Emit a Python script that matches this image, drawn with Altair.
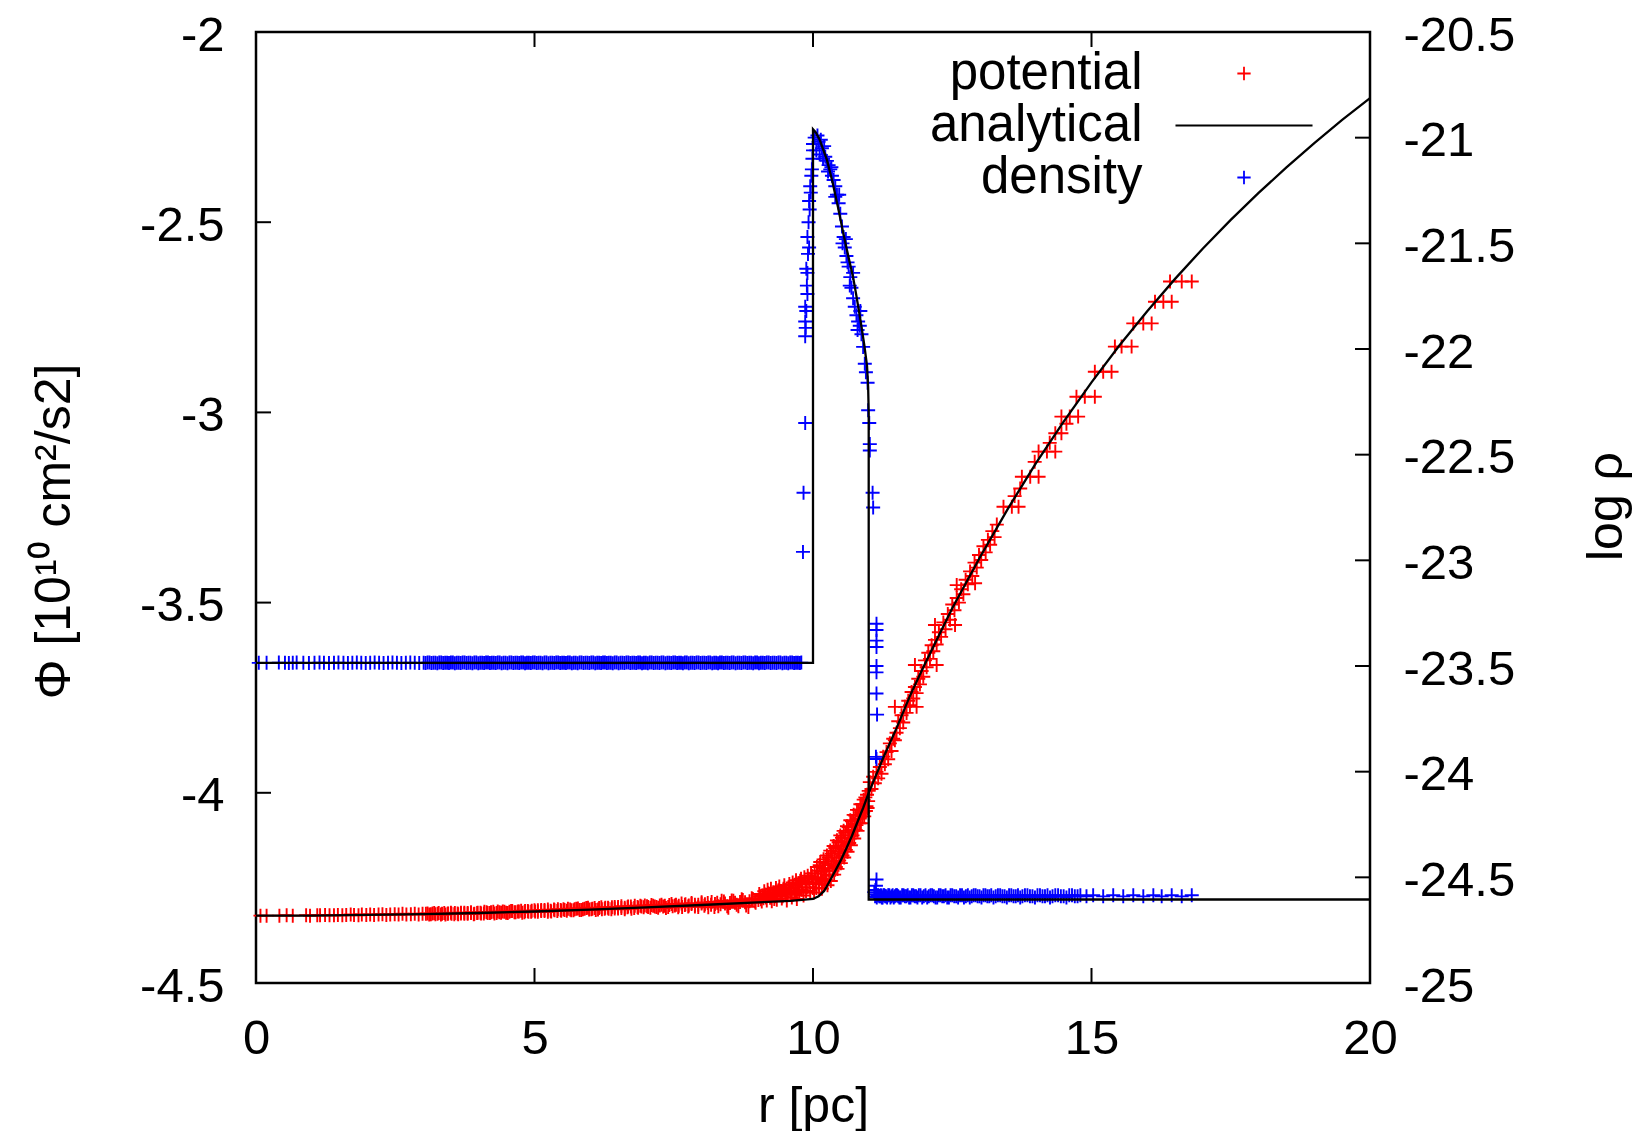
import altair as alt
import pandas as pd

# ---------------- data ----------------
x_ticks = [0, 5, 10, 15, 20]
phi_ticks = [-4.5, -4.0, -3.5, -3.0, -2.5, -2.0]
rho_ticks = [-25.0, -24.5, -24.0, -23.5, -23.0, -22.5, -22.0, -21.5, -21.0, -20.5]
series_names = ["potential", "analytical", "density"]
series_colors = ["#ff0000", "#000000", "#0000ff"]

# potential (simulation), (r [pc], Phi)
red_flat = [(0.08,-4.323),(0.19,-4.323),(0.42,-4.323),(0.55,-4.322),(0.66,-4.323),(0.90,-4.322),(0.97,-4.323),
            (1.10,-4.322),(1.15,-4.322),(1.24,-4.321),(1.32,-4.322),(1.40,-4.322),(1.47,-4.321),(1.55,-4.322),
            (1.62,-4.321),(1.70,-4.320),(1.76,-4.321),(1.84,-4.322),(1.90,-4.320),(1.98,-4.321),(2.05,-4.320),
            (2.12,-4.321),(2.20,-4.320),(2.27,-4.319),(2.34,-4.321),(2.41,-4.320),(2.49,-4.319),(2.56,-4.320),
            (2.63,-4.318),(2.70,-4.320),(2.78,-4.319),(2.85,-4.318),(2.92,-4.320),(2.99,-4.318)]
red_mid = [(3.05,-4.318),(3.11,-4.320),(3.17,-4.317),(3.22,-4.319),(3.28,-4.316),(3.34,-4.318),(3.40,-4.320),
           (3.45,-4.317),(3.51,-4.318),(3.57,-4.316),(3.63,-4.319),(3.68,-4.317),(3.74,-4.315),(3.80,-4.318),
           (3.86,-4.316),(3.91,-4.319),(3.97,-4.316),
           (4.03,-4.315),(4.09,-4.317),(4.14,-4.314),(4.20,-4.316),(4.26,-4.313),(4.32,-4.316),(4.37,-4.314),
           (4.43,-4.312),(4.49,-4.315),(4.55,-4.313),(4.60,-4.311),(4.66,-4.314),(4.72,-4.312),(4.78,-4.315),
           (4.83,-4.311),(4.89,-4.313),(4.95,-4.310),
           (5.01,-4.312),(5.06,-4.309),(5.12,-4.311),(5.18,-4.308),(5.24,-4.313),(5.29,-4.310),(5.35,-4.307),
           (5.41,-4.311),(5.47,-4.308),(5.52,-4.306),(5.58,-4.310),(5.64,-4.307),(5.70,-4.309),(5.75,-4.305),
           (5.81,-4.308),(5.87,-4.306),(5.93,-4.303),(5.98,-4.307),
           (6.04,-4.305),(6.10,-4.308),(6.16,-4.303),(6.21,-4.306),(6.27,-4.302),(6.33,-4.305),(6.39,-4.301),
           (6.44,-4.304),(6.50,-4.300),(6.56,-4.303),(6.62,-4.306),(6.67,-4.301),(6.73,-4.299),(6.79,-4.303),
           (6.85,-4.300),(6.90,-4.297),(6.96,-4.301),
           (7.02,-4.298),(7.08,-4.302),(7.13,-4.297),(7.19,-4.300),(7.25,-4.296),(7.31,-4.299),(7.36,-4.303),
           (7.42,-4.295),(7.48,-4.298),(7.54,-4.294),(7.59,-4.297),(7.65,-4.300),(7.71,-4.293),(7.77,-4.296),
           (7.82,-4.292),(7.88,-4.299),(7.94,-4.294),
           (8.00,-4.291),(8.05,-4.297),(8.11,-4.290),(8.17,-4.294),(8.23,-4.300),(8.28,-4.289),(8.34,-4.293),
           (8.40,-4.286),(8.46,-4.298),(8.51,-4.290),(8.57,-4.284),(8.63,-4.294),(8.69,-4.287),(8.74,-4.282),
           (8.80,-4.296),(8.86,-4.285),(8.92,-4.279),(8.97,-4.289)]
red_mid_b = [(3.08,-4.317),(3.14,-4.319),(3.20,-4.316),(3.26,-4.318),(3.32,-4.320),(3.38,-4.316),(3.44,-4.318),
             (3.50,-4.315),(3.56,-4.319),(3.62,-4.317),(3.68,-4.315),(3.74,-4.318),(3.80,-4.316),(3.86,-4.314),
             (3.92,-4.318),(3.98,-4.315),(4.04,-4.317),(4.10,-4.313),(4.16,-4.316),(4.22,-4.314),(4.28,-4.317),
             (4.34,-4.312),(4.40,-4.315),(4.46,-4.313),(4.52,-4.316),(4.58,-4.311),(4.64,-4.314),(4.70,-4.312),
             (4.76,-4.310),(4.82,-4.314),(4.88,-4.311),(4.94,-4.313),(5.00,-4.309),(5.06,-4.313),(5.12,-4.308),
             (5.18,-4.311),(5.24,-4.307),(5.30,-4.312),(5.36,-4.309),(5.42,-4.306),(5.48,-4.310),(5.54,-4.308),
             (5.60,-4.305),(5.66,-4.309),(5.72,-4.306),(5.78,-4.304),(5.84,-4.308),(5.90,-4.305),(5.96,-4.302),
             (6.02,-4.306),(6.08,-4.303),(6.14,-4.307),(6.20,-4.301),(6.26,-4.305),(6.32,-4.302),(6.38,-4.306),
             (6.44,-4.300),(6.50,-4.304),(6.56,-4.298),(6.62,-4.302),(6.68,-4.299),(6.74,-4.305),(6.80,-4.297),
             (6.86,-4.302),(6.92,-4.299),(6.98,-4.296),(7.04,-4.300),(7.10,-4.295),(7.16,-4.299),(7.22,-4.302),
             (7.28,-4.294),(7.34,-4.297),(7.40,-4.300),(7.46,-4.292),(7.52,-4.296),(7.58,-4.301),(7.64,-4.291),
             (7.70,-4.295),(7.76,-4.299),(7.82,-4.290),(7.88,-4.294),(7.94,-4.300),(8.00,-4.288),(8.06,-4.293),
             (8.12,-4.301),(8.18,-4.287),(8.24,-4.292),(8.30,-4.298),(8.36,-4.284),(8.42,-4.291),(8.48,-4.302),
             (8.54,-4.283),(8.60,-4.289),(8.66,-4.298),(8.72,-4.280),(8.78,-4.288),(8.84,-4.300),(8.90,-4.277),
             (8.96,-4.286)]
red_rise = [(9.02,-4.282),(9.05,-4.272),(9.08,-4.286),(9.11,-4.277),(9.14,-4.268),(9.17,-4.283),(9.20,-4.264),
            (9.23,-4.276),(9.26,-4.285),(9.29,-4.262),(9.32,-4.272),(9.35,-4.281),(9.38,-4.256),(9.41,-4.269),
            (9.44,-4.278),(9.47,-4.252),(9.50,-4.266),(9.53,-4.283),(9.56,-4.248),(9.59,-4.262),(9.62,-4.275),
            (9.65,-4.244),(9.68,-4.258),(9.71,-4.279),(9.74,-4.238),(9.77,-4.231),(9.80,-4.255),(9.83,-4.270),
            (9.86,-4.234),(9.89,-4.248),(9.92,-4.226),(9.95,-4.262),(9.98,-4.219),(10.00,-4.240)]
red_rise_b = [(9.035,-4.266),(9.065,-4.280),(9.095,-4.270),(9.125,-4.259),(9.155,-4.275),(9.185,-4.255),
              (9.215,-4.270),(9.245,-4.252),(9.275,-4.268),(9.305,-4.279),(9.335,-4.250),(9.365,-4.262),
              (9.395,-4.246),(9.425,-4.258),(9.455,-4.272),(9.485,-4.243),(9.515,-4.256),(9.545,-4.268),
              (9.575,-4.240),(9.605,-4.252),(9.635,-4.236),(9.665,-4.266),(9.695,-4.230),(9.725,-4.250),
              (9.755,-4.262),(9.785,-4.226),(9.815,-4.240),(9.845,-4.222),(9.875,-4.258),(9.905,-4.218),
              (9.935,-4.236),(9.965,-4.212),(9.995,-4.250)]
red_shell = [(10.02,-4.262),(10.04,-4.228),(10.06,-4.250),(10.08,-4.205),(10.10,-4.240),(10.12,-4.190),
             (10.14,-4.225),(10.16,-4.252),(10.18,-4.200),(10.20,-4.238),(10.22,-4.185),(10.24,-4.215),
             (10.26,-4.243),(10.28,-4.170),(10.30,-4.205),(10.32,-4.232),(10.34,-4.160),(10.36,-4.190),
             (10.38,-4.215),(10.40,-4.145),(10.42,-4.180),(10.44,-4.200),(10.46,-4.130),(10.48,-4.160),
             (10.50,-4.185),(10.52,-4.118),(10.54,-4.148),(10.56,-4.170),(10.58,-4.105),(10.60,-4.135),
             (10.62,-4.155),(10.64,-4.090),(10.66,-4.120),(10.68,-4.138),(10.70,-4.075),(10.72,-4.100),
             (10.74,-4.120),(10.76,-4.060),(10.78,-4.085),(10.80,-4.100),(10.82,-4.045),(10.84,-4.068),
             (10.86,-4.080),(10.88,-4.030),(10.90,-4.052),(10.92,-4.062),(10.94,-4.012),(10.96,-4.035),
             (10.98,-4.040),(11.00,-3.995)]
red_shell_b = [(10.03,-4.212),(10.05,-4.240),(10.07,-4.195),(10.09,-4.222),(10.11,-4.250),(10.13,-4.182),
               (10.15,-4.208),(10.17,-4.232),(10.19,-4.175),(10.21,-4.198),(10.23,-4.228),(10.25,-4.165),
               (10.27,-4.190),(10.29,-4.218),(10.31,-4.152),(10.33,-4.180),(10.35,-4.205),(10.37,-4.140),
               (10.39,-4.170),(10.41,-4.195),(10.43,-4.125),(10.45,-4.155),(10.47,-4.178),(10.49,-4.112),
               (10.51,-4.140),(10.53,-4.165),(10.55,-4.100),(10.57,-4.128),(10.59,-4.150),(10.61,-4.088),
               (10.63,-4.112),(10.65,-4.132),(10.67,-4.072),(10.69,-4.098),(10.71,-4.112),(10.73,-4.058),
               (10.75,-4.082),(10.77,-4.098),(10.79,-4.045),(10.81,-4.068),(10.83,-4.080),(10.85,-4.030),
               (10.87,-4.052),(10.89,-4.062),(10.91,-4.018),(10.93,-4.040),(10.95,-4.048),(10.97,-4.005),
               (10.99,-4.022)]
red_outer = [(11.02,-3.972),(11.05,-3.990),(11.08,-3.958),(11.11,-3.975),(11.14,-3.945),(11.17,-3.962),
             (11.20,-3.932),(11.23,-3.950),(11.26,-3.905),(11.29,-3.925),(11.32,-3.893),(11.35,-3.912),
             (11.38,-3.870),(11.41,-3.890),(11.44,-3.858),(11.47,-3.774),(11.47,-3.862),(11.50,-3.842),
             (11.53,-3.812),(11.56,-3.830),(11.59,-3.796),(11.62,-3.815),(11.65,-3.774),(11.68,-3.790),
             (11.71,-3.758),(11.74,-3.770),(11.77,-3.735),(11.80,-3.752),(11.83,-3.664),(11.83,-3.722),
             (11.86,-3.774),(11.86,-3.738),(11.89,-3.700),(11.92,-3.715),(11.95,-3.680),(11.98,-3.695),
             (12.01,-3.652),(12.04,-3.670),(12.07,-3.632),(12.10,-3.648),(12.13,-3.612),(12.16,-3.628),
             (12.19,-3.559),(12.19,-3.598),(12.22,-3.664),(12.22,-3.610),(12.26,-3.578),(12.30,-3.590),
             (12.34,-3.552),(12.38,-3.570),(12.42,-3.530),(12.46,-3.545),(12.50,-3.505),(12.55,-3.559),
             (12.54,-3.520),(12.58,-3.454),(12.58,-3.488),(12.62,-3.500),(12.66,-3.465),(12.70,-3.478),
             (12.74,-3.440),(12.78,-3.452),(12.82,-3.418),(12.86,-3.430),(12.91,-3.449),(12.90,-3.395),
             (12.94,-3.408),(12.98,-3.375),(13.02,-3.388),(13.06,-3.352),(13.10,-3.368),(13.14,-3.335),
             (13.18,-3.348),(13.22,-3.312),(13.26,-3.328),(13.30,-3.295)]
red_far = [(13.42,-3.248),(13.57,-3.248),(13.69,-3.248),(13.62,-3.220),(13.72,-3.200),
           (13.75,-3.169),(13.90,-3.169),(14.05,-3.169),(13.98,-3.130),
           (14.05,-3.103),(14.20,-3.103),(14.35,-3.103),(14.25,-3.080),
           (14.35,-3.055),(14.46,-3.055),(14.55,-3.030),
           (14.46,-3.011),(14.61,-3.011),(14.76,-3.011),
           (14.73,-2.959),(14.88,-2.959),(15.06,-2.959),
           (15.06,-2.893),(15.21,-2.893),(15.36,-2.893),
           (15.42,-2.827),(15.54,-2.827),(15.72,-2.827),
           (15.75,-2.766),(15.93,-2.766),(16.08,-2.766),
           (16.14,-2.709),(16.29,-2.709),(16.44,-2.709),
           (16.41,-2.656),(16.62,-2.656),(16.80,-2.656)]

# density (simulation), (r [pc], log rho)
blue_flat = [(0.05,-23.485),(0.19,-23.485),(0.41,-23.484),(0.52,-23.485),(0.59,-23.486),(0.66,-23.485),
             (0.73,-23.484),(0.85,-23.485),(0.95,-23.486),(1.05,-23.485),(1.14,-23.484),(1.22,-23.485),
             (1.31,-23.486),(1.40,-23.485),(1.48,-23.484),(1.57,-23.485),(1.65,-23.486),(1.73,-23.485),
             (1.81,-23.484),(1.89,-23.485),(1.97,-23.486),(2.05,-23.485),(2.13,-23.484),(2.21,-23.485),
             (2.29,-23.486),(2.37,-23.485),(2.45,-23.484),(2.53,-23.485),(2.61,-23.486),(2.69,-23.485),
             (2.77,-23.484),(2.85,-23.485),(2.93,-23.486),
             (3.01,-23.485),(3.08,-23.484),(3.15,-23.486),(3.22,-23.485),(3.29,-23.483),(3.36,-23.486),
             (3.43,-23.485),(3.50,-23.484),(3.57,-23.487),(3.64,-23.485),(3.71,-23.483),(3.78,-23.486),
             (3.85,-23.485),(3.92,-23.484),(3.99,-23.487),(4.06,-23.485),(4.13,-23.483),(4.20,-23.486),
             (4.27,-23.485),(4.34,-23.484),(4.41,-23.487),(4.48,-23.485),(4.55,-23.483),(4.62,-23.486),
             (4.69,-23.485),(4.76,-23.484),(4.83,-23.487),(4.90,-23.485),(4.97,-23.483),(5.04,-23.486),
             (5.11,-23.485),(5.18,-23.484),(5.25,-23.487),(5.32,-23.485),(5.39,-23.483),(5.46,-23.486),
             (5.53,-23.485),(5.60,-23.484),(5.67,-23.487),(5.74,-23.485),(5.81,-23.483),(5.88,-23.486),
             (5.95,-23.485),(6.02,-23.484),(6.09,-23.487),(6.16,-23.485),(6.23,-23.483),(6.30,-23.486),
             (6.37,-23.485),(6.44,-23.484),(6.51,-23.487),(6.58,-23.485),(6.65,-23.483),(6.72,-23.486),
             (6.79,-23.485),(6.86,-23.484),(6.93,-23.487),(7.00,-23.485),(7.07,-23.483),(7.14,-23.486),
             (7.21,-23.485),(7.28,-23.484),(7.35,-23.487),(7.42,-23.485),(7.49,-23.483),(7.56,-23.486),
             (7.63,-23.485),(7.70,-23.484),(7.77,-23.487),(7.84,-23.485),(7.91,-23.483),(7.98,-23.486),
             (8.05,-23.485),(8.12,-23.484),(8.19,-23.487),(8.26,-23.485),(8.33,-23.483),(8.40,-23.486),
             (8.47,-23.485),(8.54,-23.484),(8.61,-23.487),(8.68,-23.485),(8.75,-23.483),(8.82,-23.486),
             (8.89,-23.485),(8.96,-23.484),(9.03,-23.487),(9.10,-23.485),(9.17,-23.483),(9.24,-23.486),
             (9.31,-23.485),(9.38,-23.484),(9.45,-23.487),(9.52,-23.485),(9.59,-23.483),(9.66,-23.486),
             (9.73,-23.485),(9.79,-23.484)]
blue_flat_b = [(3.045,-23.486),(3.115,-23.484),(3.185,-23.485),(3.255,-23.487),(3.325,-23.484),(3.395,-23.485),
               (3.465,-23.486),(3.535,-23.483),(3.605,-23.485),(3.675,-23.486),(3.745,-23.484),(3.815,-23.485),
               (3.885,-23.487),(3.955,-23.484),(4.025,-23.485),(4.095,-23.486),(4.165,-23.483),(4.235,-23.485),
               (4.305,-23.486),(4.375,-23.484),(4.445,-23.485),(4.515,-23.487),(4.585,-23.484),(4.655,-23.485),
               (4.725,-23.486),(4.795,-23.483),(4.865,-23.485),(4.935,-23.486),(5.005,-23.484),(5.075,-23.485),
               (5.145,-23.487),(5.215,-23.484),(5.285,-23.485),(5.355,-23.486),(5.425,-23.483),(5.495,-23.485),
               (5.565,-23.486),(5.635,-23.484),(5.705,-23.485),(5.775,-23.487),(5.845,-23.484),(5.915,-23.485),
               (5.985,-23.486),(6.055,-23.483),(6.125,-23.485),(6.195,-23.486),(6.265,-23.484),(6.335,-23.485),
               (6.405,-23.487),(6.475,-23.484),(6.545,-23.485),(6.615,-23.486),(6.685,-23.483),(6.755,-23.485),
               (6.825,-23.486),(6.895,-23.484),(6.965,-23.485),(7.035,-23.487),(7.105,-23.484),(7.175,-23.485),
               (7.245,-23.486),(7.315,-23.483),(7.385,-23.485),(7.455,-23.486),(7.525,-23.484),(7.595,-23.485),
               (7.665,-23.487),(7.735,-23.484),(7.805,-23.485),(7.875,-23.486),(7.945,-23.483),(8.015,-23.485),
               (8.085,-23.486),(8.155,-23.484),(8.225,-23.485),(8.295,-23.487),(8.365,-23.484),(8.435,-23.485),
               (8.505,-23.486),(8.575,-23.483),(8.645,-23.485),(8.715,-23.486),(8.785,-23.484),(8.855,-23.485),
               (8.925,-23.487),(8.995,-23.484),(9.065,-23.485),(9.135,-23.486),(9.205,-23.483),(9.275,-23.485),
               (9.345,-23.486),(9.415,-23.484),(9.485,-23.485),(9.555,-23.487),(9.625,-23.484),(9.695,-23.485),
               (9.765,-23.486)]
blue_wall = [(9.82,-22.96),(9.83,-22.68),(9.86,-22.35),(9.86,-21.94),(9.87,-21.90),(9.86,-21.87),
             (9.88,-21.82),(9.86,-21.80),(9.90,-21.74),(9.89,-21.70),(9.90,-21.64),(9.88,-21.62),
             (9.91,-21.55),(9.93,-21.52),(9.90,-21.47),(9.92,-21.40),(9.94,-21.34),(9.93,-21.30),
             (9.96,-21.26),(9.95,-21.23),(9.97,-21.18),(9.98,-21.15),(9.99,-21.10),(10.00,-21.06),
             (10.00,-21.03),(10.03,-21.00),(10.06,-21.06),(10.08,-20.99),(10.10,-21.02),(10.12,-21.08),
             (10.14,-21.01),(10.16,-21.05),(10.18,-21.10),(10.20,-21.04)]
blue_slope = [(10.22,-21.09),(10.25,-21.11),(10.27,-21.16),(10.28,-21.13),(10.31,-21.15),(10.33,-21.14),
              (10.34,-21.18),(10.37,-21.20),(10.40,-21.23),(10.40,-21.28),(10.43,-21.27),(10.46,-21.31),
              (10.47,-21.27),(10.49,-21.36),(10.52,-21.42),(10.53,-21.50),(10.55,-21.47),(10.57,-21.52),
              (10.59,-21.48),(10.60,-21.56),(10.62,-21.59),(10.64,-21.61),(10.66,-21.70),(10.67,-21.66),
              (10.69,-21.71),(10.72,-21.76),(10.72,-21.64),(10.75,-21.80),(10.78,-21.84),(10.80,-21.91),
              (10.81,-21.87),(10.84,-21.89),(10.85,-21.82),(10.87,-21.93),(10.90,-21.99),(10.93,-22.07),
              (10.95,-22.11),(10.98,-22.16),(10.99,-22.29),(11.01,-22.35),(11.02,-22.45),(11.02,-22.48),
              (11.07,-22.68),(11.08,-22.75),(11.14,-23.30),(11.14,-23.33),(11.14,-23.38),(11.14,-23.41),
              (11.14,-23.50),(11.14,-23.53),(11.14,-23.63),(11.15,-23.73),(11.13,-23.93),(11.14,-23.94),
              (11.14,-24.51),(11.13,-24.54),(11.12,-24.56)]
blue_outer = [(11.10,-24.57),(11.13,-24.58),(11.16,-24.585),(11.19,-24.59),(11.22,-24.585),(11.25,-24.595),
              (11.28,-24.585),(11.31,-24.59),(11.35,-24.585),(11.39,-24.595),(11.43,-24.585),(11.47,-24.59),
              (11.51,-24.585),(11.55,-24.595),(11.60,-24.585),(11.65,-24.59),(11.70,-24.585),(11.75,-24.595),
              (11.80,-24.585),(11.85,-24.59),(11.90,-24.585),(11.96,-24.595),(12.02,-24.585),(12.08,-24.59),
              (12.14,-24.585),(12.20,-24.595),(12.26,-24.585),(12.32,-24.59),(12.38,-24.585),(12.44,-24.595),
              (12.50,-24.585),(12.57,-24.59),(12.64,-24.585),(12.71,-24.595),(12.78,-24.585),(12.85,-24.59),
              (12.92,-24.585),(12.99,-24.59),(13.06,-24.585),(13.13,-24.59),(13.20,-24.585),(13.28,-24.59),
              (13.36,-24.585),(13.44,-24.59),(13.52,-24.585),(13.60,-24.59),(13.68,-24.585),(13.76,-24.59),
              (13.85,-24.585),(13.94,-24.59),(14.03,-24.585),(14.12,-24.59),(14.21,-24.585),(14.30,-24.59),
              (14.40,-24.585),(14.50,-24.59),(14.60,-24.585),(14.70,-24.59),(14.80,-24.585),(14.91,-24.59),
              (15.03,-24.585),(15.21,-24.59),(15.39,-24.585),(15.57,-24.59),(15.75,-24.585),(15.93,-24.59),
              (16.11,-24.585),(16.26,-24.59),(16.44,-24.585),(16.62,-24.59),(16.80,-24.585)]
blue_outer_b = [(11.115,-24.59),(11.145,-24.595),(11.175,-24.585),(11.205,-24.59),(11.235,-24.595),
                (11.265,-24.585),(11.295,-24.59),(11.33,-24.595),(11.37,-24.585),(11.41,-24.59),
                (11.45,-24.595),(11.49,-24.585),(11.53,-24.59),(11.575,-24.595),(11.625,-24.585),
                (11.675,-24.59),(11.725,-24.595),(11.775,-24.585),(11.825,-24.59),(11.875,-24.595),
                (11.93,-24.585),(11.99,-24.59),(12.05,-24.595),(12.11,-24.585),(12.17,-24.59),
                (12.23,-24.595),(12.29,-24.585),(12.35,-24.59),(12.41,-24.595),(12.47,-24.585),
                (12.535,-24.59),(12.605,-24.595),(12.675,-24.585),(12.745,-24.59),(12.815,-24.595),
                (12.885,-24.585),(12.955,-24.59),(13.025,-24.595),(13.095,-24.585),(13.165,-24.59),
                (13.24,-24.595),(13.32,-24.585),(13.40,-24.59),(13.48,-24.595),(13.56,-24.585),
                (13.64,-24.59),(13.72,-24.595),(13.805,-24.585),(13.895,-24.59),(13.985,-24.595),
                (14.075,-24.585),(14.165,-24.59),(14.255,-24.595),(14.35,-24.585),(14.45,-24.59),
                (14.55,-24.595),(14.65,-24.585),(14.75,-24.59)]

# analytical curves
phi_analytic = [(0.0,-4.323),(1.0,-4.323),(2.0,-4.321),(3.0,-4.319),(4.0,-4.316),(5.0,-4.312),(6.0,-4.307),
                (7.0,-4.301),(8.0,-4.295),(9.0,-4.288),(9.6,-4.284),(10.0,-4.279),(10.1,-4.272),(10.2,-4.258),
                (10.3,-4.232),(10.4,-4.205),(10.5,-4.177),(10.6,-4.146),(10.7,-4.113),(10.8,-4.076),
                (10.9,-4.040),(11.0,-4.000),(11.25,-3.912),(11.5,-3.830),(11.75,-3.742),(12.0,-3.664),
                (12.5,-3.515),(13.0,-3.380),(13.5,-3.253),(14.0,-3.134),(14.5,-3.024),(15.0,-2.921),
                (15.5,-2.824),(16.0,-2.734),(16.5,-2.649),(17.0,-2.569),(17.5,-2.494),(18.0,-2.423),
                (18.5,-2.356),(19.0,-2.292),(19.5,-2.231),(20.0,-2.174)]
rho_analytic = [(0.0,-23.485),(10.0,-23.485),(10.0,-20.96),(10.05,-20.975),(10.12,-21.01),(10.25,-21.105),
                (10.35,-21.21),(10.45,-21.33),(10.55,-21.46),(10.65,-21.58),(10.72,-21.66),(10.78,-21.75),
                (10.85,-21.86),(10.92,-21.98),(10.97,-22.08),(10.99,-22.18),(11.0,-22.3),(11.0,-24.605),
                (20.0,-24.605)]

# ---------------- tables ----------------
red_df = pd.DataFrame(red_flat + red_mid + red_mid_b + red_rise + red_rise_b + red_shell + red_shell_b
                      + red_outer + red_far, columns=["r", "phi"])
blue_df = pd.DataFrame(blue_flat + blue_flat_b + blue_wall + blue_slope + blue_outer + blue_outer_b,
                       columns=["r", "logrho"])
phi_line_df = pd.DataFrame(phi_analytic, columns=["r", "phi"])
phi_line_df["i"] = range(len(phi_line_df))
rho_line_df = pd.DataFrame(rho_analytic, columns=["r", "logrho"])
rho_line_df["i"] = range(len(rho_line_df))
legend_df = pd.DataFrame({"series": series_names})

# ---------------- styling ----------------
W, H = 1114, 951
FONT = "Liberation Sans"
CROSS = "M-1,0H1M0,-1V1"
LEGEND_LINE = "M-10.3,0H10.3"
TICK = 15
MARK_SIZE = 196
MARK_STROKE = 1.9

x_scale = alt.Scale(domain=[0, 20], nice=False, zero=False)
phi_scale = alt.Scale(domain=[-4.5, -2.0], nice=False, zero=False)
rho_scale = alt.Scale(domain=[-25.0, -20.5], nice=False, zero=False)

x_axis = alt.Axis(values=x_ticks, title="r [pc]", labelExpr="'' + datum.value", labelPadding=31,
                  titleX=W / 2, titleY=138, titleAlign="center", titleBaseline="alphabetic")
left_axis = alt.Axis(orient="left", values=phi_ticks, title="Φ [10¹⁰ cm²/s2]",
                     labelExpr="'' + datum.value", labelPadding=32, labelOffset=alt.ExprRef(expr="3"),
                     titleAngle=270, titleX=-187, titleY=499, titleAlign="center", titleBaseline="alphabetic")
right_axis = alt.Axis(orient="right", values=rho_ticks, title="log ρ",
                      labelExpr="'' + datum.value", labelPadding=33, labelOffset=alt.ExprRef(expr="3"),
                      titleAngle=270, titleX=251, titleY=474, titleAlign="center", titleBaseline="alphabetic")

X = alt.X("r:Q", scale=x_scale, axis=x_axis)

red = alt.Chart(red_df).mark_point(shape=CROSS, filled=False, size=MARK_SIZE, strokeWidth=MARK_STROKE,
                                   color="#ff0000", opacity=1).encode(
    x=X, y=alt.Y("phi:Q", scale=phi_scale, axis=left_axis))

blue = alt.Chart(blue_df).mark_point(shape=CROSS, filled=False, size=MARK_SIZE, strokeWidth=MARK_STROKE,
                                     color="#0000ff", opacity=1).encode(
    x=X, y=alt.Y("logrho:Q", scale=rho_scale, axis=right_axis))

phi_line = alt.Chart(phi_line_df).mark_line(color="black", strokeWidth=2.3).encode(
    x=X, y=alt.Y("phi:Q", scale=phi_scale, axis=None), order="i:Q")

rho_line = alt.Chart(rho_line_df).mark_line(color="black", strokeWidth=2.3).encode(
    x=X, y=alt.Y("logrho:Q", scale=rho_scale, axis=None), order="i:Q")

tick_x = alt.X("v:Q", scale=x_scale, axis=x_axis)
bottom_ticks = alt.Chart(pd.DataFrame({"v": x_ticks})).mark_rule(color="black", strokeWidth=2).encode(
    x=tick_x, y=alt.value(H - TICK), y2=alt.value(H))
top_ticks = alt.Chart(pd.DataFrame({"v": x_ticks})).mark_rule(color="black", strokeWidth=2).encode(
    x=tick_x, y=alt.value(0), y2=alt.value(TICK))
left_ticks = alt.Chart(pd.DataFrame({"v": phi_ticks})).mark_rule(color="black", strokeWidth=2).encode(
    y=alt.Y("v:Q", scale=phi_scale, axis=None), x=alt.value(0), x2=alt.value(TICK))
right_ticks = alt.Chart(pd.DataFrame({"v": rho_ticks})).mark_rule(color="black", strokeWidth=2).encode(
    y=alt.Y("v:Q", scale=rho_scale, axis=None), x=alt.value(W - TICK), x2=alt.value(W))

legend_props = dict(orient="none", legendX=962.5, legendY=16, title=None, labelAlign="right",
                    labelOffset=alt.ExprRef(expr="-127"), labelFontSize=51, labelFont=FONT,
                    labelColor="black", labelLimit=0, symbolSize=177, symbolStrokeWidth=1.8,
                    rowPadding=0, padding=0, symbolOpacity=1)
legend_layer = alt.Chart(legend_df).mark_point(filled=False, opacity=1, clip=True, size=177,
                                               strokeWidth=1.8).encode(
    x=alt.value(-60), y=alt.value(-60),
    color=alt.Color("series:N", scale=alt.Scale(domain=series_names, range=series_colors),
                    legend=alt.Legend(**legend_props)),
    shape=alt.Shape("series:N", scale=alt.Scale(domain=series_names, range=[CROSS, LEGEND_LINE, CROSS]),
                    legend=alt.Legend(**legend_props)))

chart = alt.layer(
    red, blue, phi_line, rho_line, bottom_ticks, top_ticks, left_ticks, right_ticks, legend_layer
).resolve_scale(
    y="independent"
).properties(
    width=W, height=H,
    autosize=alt.AutoSizeParams(type="none"),
    padding={"left": 248, "top": 24, "right": 272, "bottom": 148},
).configure_view(
    stroke="black", strokeWidth=2.5
).configure_axis(
    labelFont=FONT, labelFontSize=49, labelColor="black",
    titleFont=FONT, titleFontSize=50, titleFontWeight="normal", titleColor="black",
    domain=False, ticks=False, tickSize=0, grid=False, labelFlush=False, labelOverlap=False
)

chart.save("out.html", embed_options={"renderer": "svg", "actions": False})
